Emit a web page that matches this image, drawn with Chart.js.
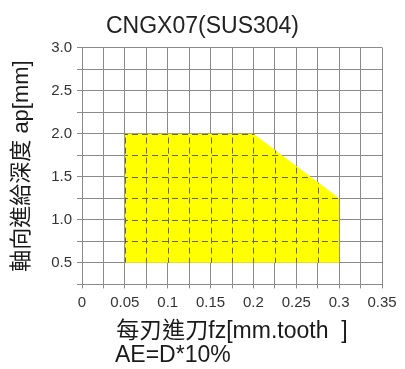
<!DOCTYPE html>
<html>
<head>
<meta charset="utf-8">
<script src="https://cdn.jsdelivr.net/npm/chart.js@4"></script>
<style>
  body { margin: 0; background: #fff; }
</style>
</head>
<body>
<canvas id="myChart" width="405" height="369"></canvas>
<script>
// area of usable cutting conditions (closed polygon)
var fz = [0.05, 0.05, 0.2, 0.3, 0.3, 0.05];
var ap = [0.5, 2.0, 2.0, 1.25, 0.5, 0.5];

// grid / tick positions and their labels
var xTicks = [0, 0.025, 0.05, 0.075, 0.1, 0.125, 0.15, 0.175, 0.2, 0.225, 0.25, 0.275, 0.3, 0.325, 0.35];
var xLabels = ['0', '', '0.05', '', '0.1', '', '0.15', '', '0.2', '', '0.25', '', '0.3', '', '0.35'];
var yTicks = [0.25, 0.5, 0.75, 1.0, 1.25, 1.5, 1.75, 2.0, 2.25, 2.5, 2.75, 3.0];
var yLabels = ['', '0.5', '', '1.0', '', '1.5', '', '2.0', '', '2.5', '', '3.0'];

var latin = '"Liberation Sans", Arial, "Noto Sans CJK TC", sans-serif';
var gridColor = '#8a8a8a';

let points = [];
for (let i = 0; i < fz.length; i++) {
  points.push({x: fz[i], y: ap[i]});
}

// dashed grid lines that show through the yellow area
const dashedInside = {
  id: 'dashedInside',
  afterDatasetsDraw(chart) {
    const ctx = chart.ctx;
    const pts = chart.getDatasetMeta(0).data;
    const xs = chart.scales.x, ys = chart.scales.y;
    ctx.save();
    ctx.beginPath();
    pts.forEach((p, i) => i ? ctx.lineTo(p.x, p.y) : ctx.moveTo(p.x, p.y));
    ctx.closePath();
    ctx.clip();
    ctx.strokeStyle = 'rgba(85,85,60,0.9)';
    ctx.lineWidth = 1;
    ctx.setLineDash([6, 4]);
    xTicks.forEach(v => {
      const px = Math.round(xs.getPixelForValue(v)) + 0.5;
      ctx.beginPath();
      ctx.moveTo(px, chart.chartArea.top);
      ctx.lineTo(px, chart.chartArea.bottom);
      ctx.stroke();
    });
    yTicks.forEach(v => {
      const py = Math.round(ys.getPixelForValue(v)) + 0.5;
      ctx.beginPath();
      ctx.moveTo(chart.chartArea.left, py);
      ctx.lineTo(chart.chartArea.right, py);
      ctx.stroke();
    });
    ctx.restore();
  }
};

// note under the x axis title
const noteText = {
  id: 'noteText',
  afterDraw(chart) {
    const ctx = chart.ctx;
    ctx.save();
    ctx.font = '23px ' + latin;
    ctx.fillStyle = '#1a1a1a';
    ctx.textAlign = 'left';
    ctx.textBaseline = 'middle';
    ctx.fillText('AE=D*10%', 115, 356);
    ctx.restore();
  }
};

let options = {
  type: 'scatter',
  data: {
    datasets: [{
      data: points,
      showLine: true,
      fill: 'shape',
      backgroundColor: '#ffff00',
      borderWidth: 0,
      borderColor: 'rgba(0,0,0,0)',
      pointRadius: 0,
      pointHoverRadius: 0,
      tension: 0
    }]
  },
  options: {
    responsive: false,
    animation: false,
    devicePixelRatio: 1,
    layout: { padding: { left: 0, right: 0, top: 0, bottom: 24 } },
    plugins: {
      legend: { display: false },
      tooltip: { enabled: false },
      title: {
        display: true,
        text: 'CNGX07(SUS304)',
        color: '#222',
        font: { family: latin, size: 23, weight: 'normal' },
        padding: { top: 13, bottom: 7 }
      }
    },
    scales: {
      x: {
        type: 'linear',
        min: 0,
        max: 0.35,
        afterBuildTicks: function(s) { s.ticks = xTicks.map(v => ({value: v})); },
        ticks: {
          autoSkip: false,
          maxRotation: 0,
          padding: 5,
          color: '#333',
          font: { family: latin, size: 15 },
          callback: function(v, i) { return xLabels[i]; }
        },
        grid: { color: gridColor, tickLength: 4 },
        border: { color: gridColor },
        title: {
          display: true,
          text: '每刃進刀fz[mm.tooth  ]',
          color: '#1a1a1a',
          font: { family: latin, size: 23 },
          padding: { top: 1, bottom: 0 }
        }
      },
      y: {
        type: 'linear',
        min: 0.25,
        max: 3.0,
        afterBuildTicks: function(s) { s.ticks = yTicks.map(v => ({value: v})); },
        afterFit: function(s) { s.width = 82; },
        ticks: {
          autoSkip: false,
          padding: 5,
          color: '#333',
          font: { family: latin, size: 15 },
          callback: function(v, i) { return yLabels[i]; }
        },
        grid: { color: gridColor, tickLength: 5 },
        border: { color: gridColor },
        title: {
          display: true,
          text: '軸向進給深度 ap[mm]',
          color: '#1a1a1a',
          font: { family: latin, size: 22 },
          padding: { top: 9, bottom: 0 }
        }
      },
      // empty right-hand strip that keeps the plot clear of the right edge
      yRight: {
        type: 'linear',
        position: 'right',
        afterFit: function(s) { s.width = 23; },
        grid: { display: false },
        ticks: { display: false },
        border: { display: false }
      }
    }
  },
  plugins: [dashedInside, noteText]
};

let mChart = new Chart(document.getElementById('myChart'), options);
</script>
</body>
</html>
